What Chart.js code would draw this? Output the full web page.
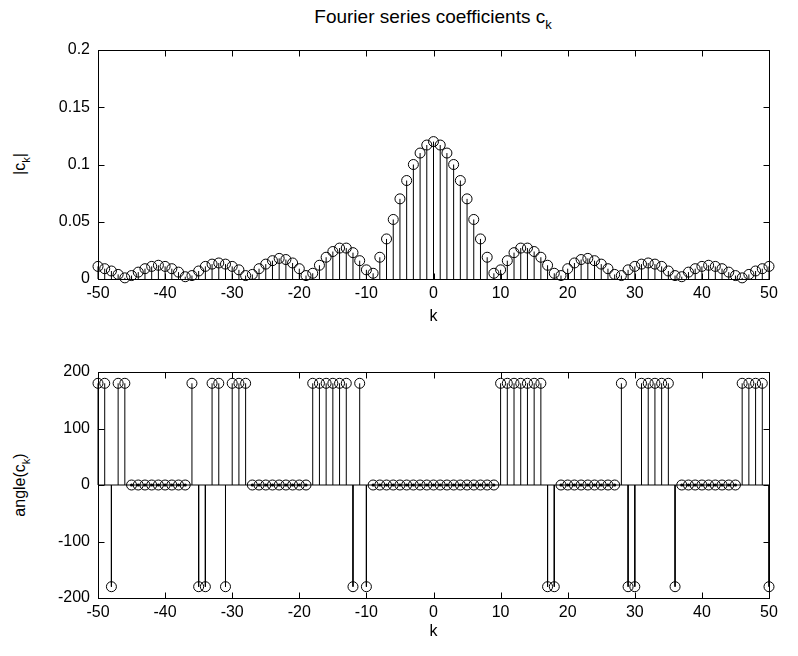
<!DOCTYPE html>
<html lang="en">
<head>
<meta charset="UTF-8">
<title>Fourier series coefficients</title>
<script src="https://cdn.jsdelivr.net/npm/chart.js"></script>
<style>
  body { margin: 0; background: #fff; font-family: "Liberation Sans", Arial, sans-serif; }
  #wrap { position: relative; width: 798px; height: 656px; }
  canvas { position: absolute; left: 0; }
  .lbl { position: absolute; font-size: 16px; color: #000; white-space: nowrap; line-height: 1; }
  .lbl sub { font-size: 11px; vertical-align: -5px; }
  .ttl { font-size: 19px; }
  .ttl sub { font-size: 13px; vertical-align: -6px; }
  .ylab { transform: translate(-50%, -50%) rotate(-90deg); }
</style>
</head>
<body>
<div id="wrap">
  <div class="lbl ttl" style="left:433px; top:19px; transform:translate(-50%,-50%)">Fourier series coefficients c<sub>k</sub></div>
  <div class="lbl ylab" style="left:22px; top:164px">|c<sub>k</sub>|</div>
  <div class="lbl ylab" style="left:22px; top:485px">angle(c<sub>k</sub>)</div>
  <canvas id="magChart" width="798" height="330" style="top:0"></canvas>
  <canvas id="phaseChart" width="798" height="326" style="top:330px"></canvas>
</div>
<script>
// harmonic index k = -50..50
const kValues = [
  -50, -49, -48, -47, -46, -45, -44, -43, -42, -41, -40, -39, -38, -37, -36, -35, -34,
  -33, -32, -31, -30, -29, -28, -27, -26, -25, -24, -23, -22, -21, -20, -19, -18, -17,
  -16, -15, -14, -13, -12, -11, -10, -9, -8, -7, -6, -5, -4, -3, -2, -1, 0,
  1, 2, 3, 4, 5, 6, 7, 8, 9, 10, 11, 12, 13, 14, 15, 16, 17, 18, 19, 20, 21, 22, 23, 24, 25,
  26, 27, 28, 29, 30, 31, 32, 33, 34, 35, 36, 37, 38, 39, 40, 41, 42, 43, 44, 45, 46, 47, 48, 49, 50
];

// |c_k|
const magnitude = [
  0.011, 0.009, 0.007, 0.004, 0.001, 0.003, 0.006, 0.009, 0.011, 0.012, 0.011, 0.009, 0.006, 0.002, 0.003, 0.007, 0.011,
  0.013, 0.014, 0.013, 0.011, 0.008, 0.003, 0.004, 0.009, 0.013, 0.016, 0.018, 0.017, 0.014, 0.009, 0.003, 0.005, 0.012,
  0.019, 0.024, 0.027, 0.027, 0.023, 0.016, 0.008, 0.005, 0.019, 0.035, 0.052, 0.070, 0.086, 0.100, 0.110, 0.117, 0.120,
  0.117, 0.110, 0.100, 0.086, 0.070, 0.052, 0.035, 0.019, 0.005, 0.008, 0.016, 0.023, 0.027, 0.027, 0.024, 0.019, 0.012, 0.005, 0.003, 0.009, 0.014, 0.017, 0.018, 0.016, 0.013,
  0.009, 0.004, 0.003, 0.008, 0.011, 0.013, 0.014, 0.013, 0.011, 0.007, 0.003, 0.002, 0.006, 0.009, 0.011, 0.012, 0.011, 0.009, 0.006, 0.003, 0.001, 0.004, 0.007, 0.009, 0.011
];

// angle(c_k) in degrees
const angle = [
  180, 180, -180, 180, 180, 0, 0, 0, 0, 0, 0, 0, 0, 0, 180, -180, -180,
  180, 180, -180, 180, 180, 180, 0, 0, 0, 0, 0, 0, 0, 0, 0, 180, 180,
  180, 180, 180, 180, -180, 180, -180, 0, 0, 0, 0, 0, 0, 0, 0, 0, 0,
  0, 0, 0, 0, 0, 0, 0, 0, 0, 180, 180, 180, 180, 180, 180, 180, -180, -180, 0, 0, 0, 0, 0, 0, 0,
  0, 0, 180, -180, -180, 180, 180, 180, 180, 180, -180, 0, 0, 0, 0, 0, 0, 0, 0, 0, 180, 180, 180, 180, -180
];

const kTicks = [-50, -40, -30, -20, -10, 0, 10, 20, 30, 40, 50];
const magTicks = [0, 0.05, 0.1, 0.15, 0.2];
const angleTicks = [-200, -100, 0, 100, 200];

Chart.defaults.font.family = '"Liberation Sans", Arial, sans-serif';
Chart.defaults.font.size = 16;
Chart.defaults.color = '#000';

// stem lines: (k,0)->(k,v) pairs separated by gaps
function stems(xs, ys) {
  const pts = [];
  xs.forEach((x, i) => { pts.push({x: x, y: 0}, {x: x, y: ys[i]}, {x: x, y: null}); });
  return pts;
}
function points(xs, ys) {
  return xs.map((x, i) => ({x: x, y: ys[i]}));
}

// box round the plot area with inward tick marks on all four sides
const boxAxes = {
  id: 'boxAxes',
  afterDatasetsDraw(chart) {
    const {ctx, chartArea: a, scales: {x, y}} = chart;
    const L = Math.round(a.left) + 0.5, R = Math.round(a.right) + 0.5;
    const T = Math.round(a.top) + 0.5, B = Math.round(a.bottom) + 0.5;
    ctx.save();
    ctx.strokeStyle = '#000';
    ctx.lineWidth = 1;
    ctx.beginPath();
    x.ticks.forEach(t => {
      const px = Math.round(x.getPixelForValue(t.value)) + 0.5;
      ctx.moveTo(px, B); ctx.lineTo(px, B - 6);
      ctx.moveTo(px, T); ctx.lineTo(px, T + 6);
    });
    y.ticks.forEach(t => {
      const py = Math.round(y.getPixelForValue(t.value)) + 0.5;
      ctx.moveTo(L, py); ctx.lineTo(L + 6, py);
      ctx.moveTo(R, py); ctx.lineTo(R - 6, py);
    });
    ctx.stroke();
    ctx.strokeRect(L, T, R - L, B - T);
    ctx.restore();
  }
};

function makeChart(id, datasets, yMin, yMax, yTicks, fmt, layout) {
  return new Chart(document.getElementById(id), {
    type: 'scatter',
    data: { datasets: datasets },
    options: {
      responsive: false,
      animation: false,
      events: [],
      layout: { padding: { top: layout.top, right: 29, left: 0, bottom: 0 } },
      plugins: { legend: { display: false }, tooltip: { enabled: false } },
      scales: {
        x: {
          type: 'linear', min: -50, max: 50,
          afterBuildTicks: s => { s.ticks = kTicks.map(v => ({value: v})); },
          afterFit: s => { s.height = layout.xHeight; },
          grid: { display: false, drawTicks: false },
          border: { display: false },
          ticks: { padding: layout.tickPad, maxRotation: 0 },
          title: { display: true, text: 'k', padding: { top: 0, bottom: layout.titlePad } }
        },
        y: {
          min: yMin, max: yMax,
          afterBuildTicks: s => { s.ticks = yTicks.map(v => ({value: v})); },
          afterFit: s => { s.width = 98; },
          grid: { display: false, drawTicks: false },
          border: { display: false },
          ticks: { padding: 8, callback: fmt }
        }
      }
    },
    plugins: [boxAxes]
  });
}

const stemStyle = { type: 'line', borderColor: '#000', borderWidth: 1, pointRadius: 0, spanGaps: false, clip: false };
const ringStyle = { pointStyle: 'circle', pointRadius: 5, borderColor: '#000', backgroundColor: 'rgba(0,0,0,0)', borderWidth: 1, showLine: false, clip: false };

makeChart('magChart', [
  Object.assign({ data: stems(kValues, magnitude) }, stemStyle),
  Object.assign({ data: points(kValues, magnitude) }, ringStyle)
], 0, 0.2, magTicks, v => String(v), { top: 50, xHeight: 51, tickPad: 5, titlePad: 4 });

const zeroK = kValues.filter((k, i) => angle[i] === 0);
makeChart('phaseChart', [
  Object.assign({ data: [{x: -50, y: 0}, {x: 50, y: 0}] }, stemStyle),
  Object.assign({ data: stems(kValues, angle) }, stemStyle),
  Object.assign({ data: points(kValues, angle) }, ringStyle),
  { data: points(zeroK, zeroK.map(() => 0)), pointRadius: 1.6, borderWidth: 0, backgroundColor: '#000', showLine: false, clip: false }
], -200, 200, angleTicks, v => String(v), { top: 42, xHeight: 58, tickPad: 5, titlePad: 15 });
</script>
</body>
</html>
